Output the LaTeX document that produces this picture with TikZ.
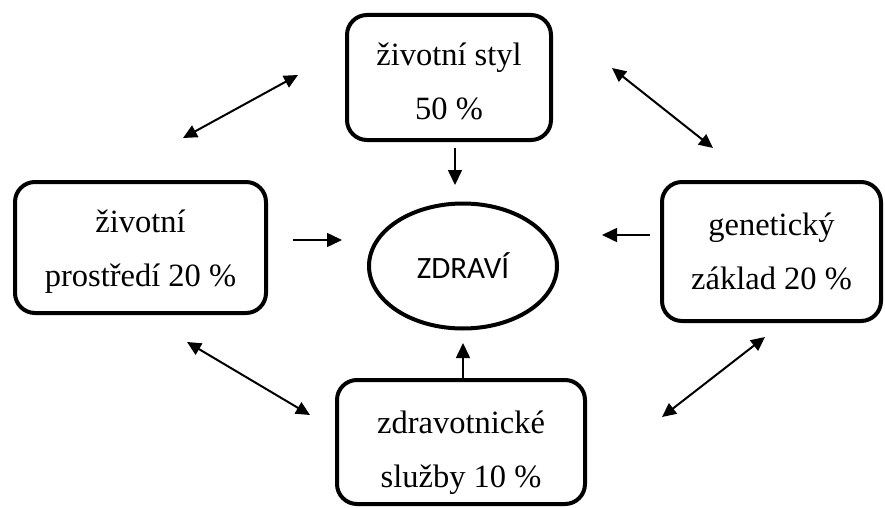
\documentclass[tikz,border=0pt]{standalone}
\usepackage{fontspec}
\setmainfont{Liberation Serif}
\newfontfamily\calibrifont{Carlito}
\usetikzlibrary{arrows.meta,shapes.geometric}
\tikzset{
  factorbox/.style={draw, rectangle, rounded corners=20pt, line width=4pt, inner sep=0pt,
    align=center, font=\fontsize{32.5}{54}\selectfont},
  healthnode/.style={draw, ellipse, line width=4pt, inner sep=0pt,
    minimum width=188pt, minimum height=125pt, font=\calibrifont\fontsize{31}{36}\selectfont},
  onearrow/.style={line width=1.6pt, -{Triangle[length=15pt,width=14pt]}},
  twoarrow/.style={line width=2pt, {Triangle[length=14pt,width=13pt]}-{Triangle[length=14pt,width=13pt]}}
}
\begin{document}
\begin{tikzpicture}[x=1pt,y=-1pt]
\useasboundingbox (0,0) rectangle (885,508);
\node[factorbox, minimum width=204pt, minimum height=125pt] (styl) at (449,77.5) {\rule{0pt}{30pt}životní styl\\50 \%};
\node[factorbox, minimum width=251pt, minimum height=131pt] (prostredi) at (140.5,247.5) {\rule{0pt}{30pt}životní\\prostředí 20 \%};
\node[factorbox, minimum width=219pt, minimum height=139pt] (genetika) at (771.5,251.5) {genetický\\základ 20 \%};
\node[factorbox, minimum width=248pt, minimum height=124pt] (sluzby) at (461,442) {\rule{0pt}{44pt}zdravotnické\\služby 10 \%};
\node[healthnode] (zdravi) at (463,266) {ZDRAVÍ};

\coordinate (a1s) at (455,148); \coordinate (a1e) at (455,185);
\coordinate (a2s) at (293,240); \coordinate (a2e) at (342,240);
\coordinate (a3s) at (650,235); \coordinate (a3e) at (602,235);
\coordinate (a4s) at (463,380); \coordinate (a4e) at (463,343);
\coordinate (d1s) at (298,75);  \coordinate (d1e) at (183,138);
\coordinate (d2s) at (612,68);  \coordinate (d2e) at (713,148);
\coordinate (d3s) at (187,342); \coordinate (d3e) at (310,415);
\coordinate (d4s) at (765,337); \coordinate (d4e) at (662,417);

\draw[onearrow] (a1s) -- (a1e);
\draw[onearrow] (a2s) -- (a2e);
\draw[onearrow] (a3s) -- (a3e);
\draw[onearrow] (a4s) -- (a4e);
\draw[twoarrow] (d1s) -- (d1e);
\draw[twoarrow] (d2s) -- (d2e);
\draw[twoarrow] (d3s) -- (d3e);
\draw[twoarrow] (d4s) -- (d4e);
\end{tikzpicture}
\end{document}
